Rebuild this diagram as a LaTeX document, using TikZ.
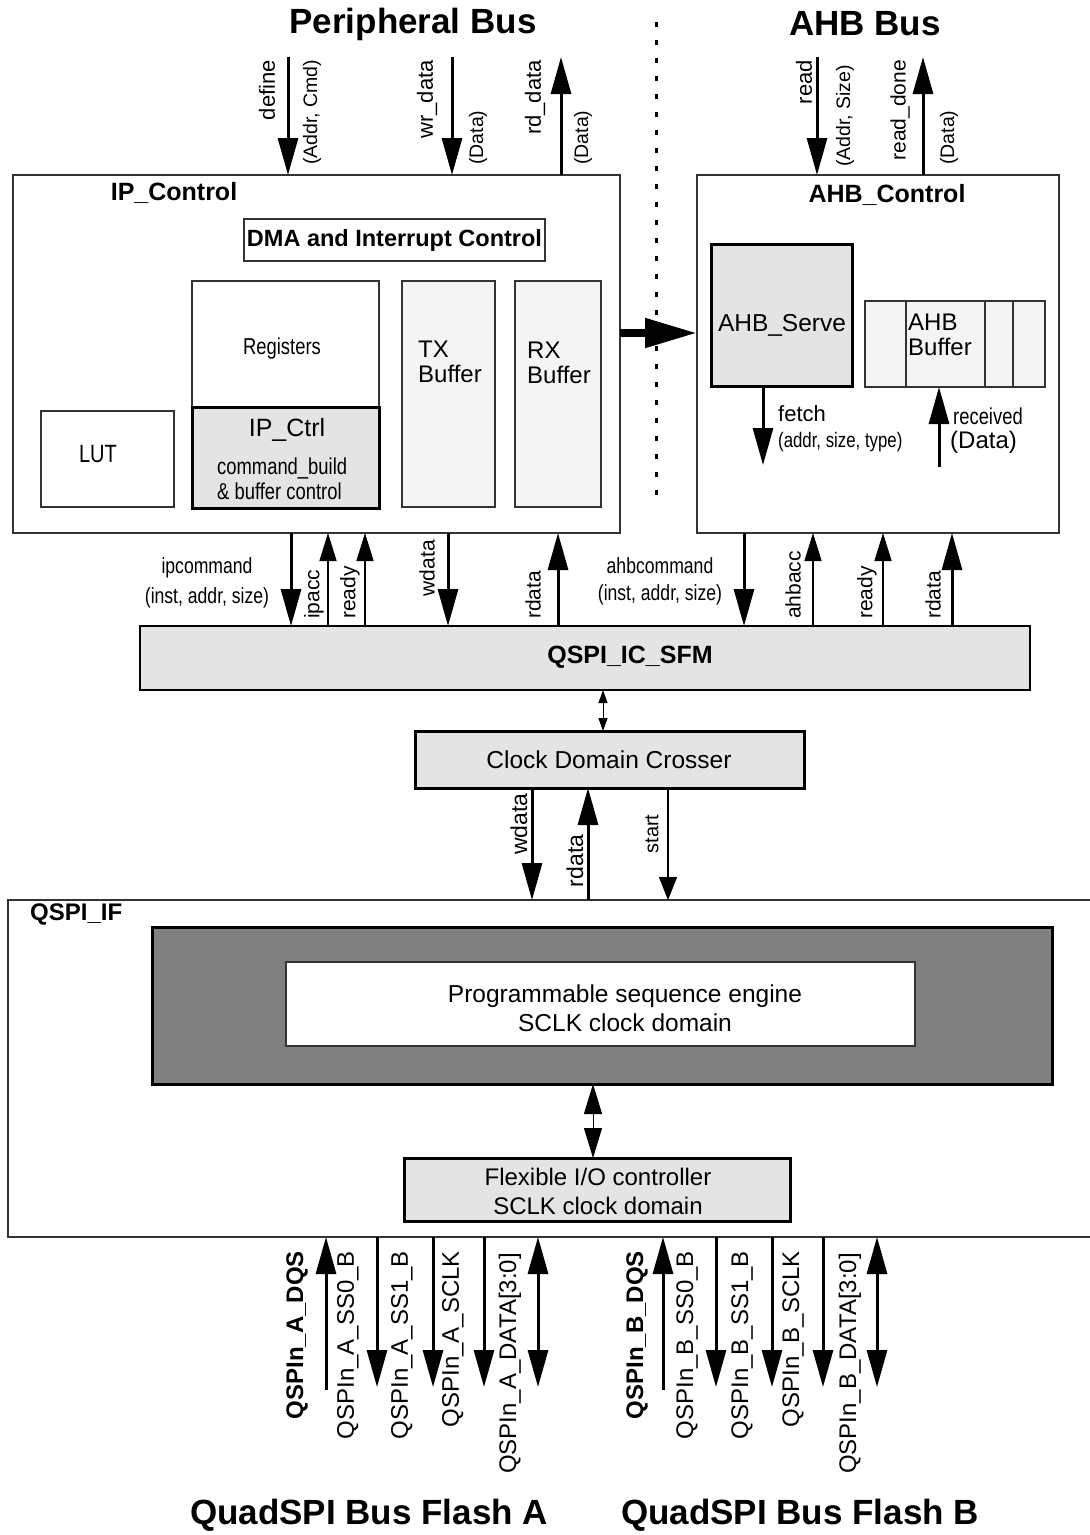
\documentclass[tikz,border=0pt]{standalone}
\usepackage{fontspec}
\setmainfont{Liberation Sans}
\newfontfamily\narfont[FakeStretch=0.8]{Liberation Sans}
\usetikzlibrary{arrows.meta}
\definecolor{lgray}{HTML}{E4E4E4}
\definecolor{vlgray}{HTML}{F4F4F4}
\definecolor{dgray}{HTML}{808080}
\begin{document}
\begin{tikzpicture}[x=1pt,y=-1pt,
 box/.style={draw=black!80,line width=1.3pt,inner sep=0pt,outer sep=0pt,anchor=north west},
 tbox/.style={box,draw=black,line width=3pt,fill=lgray},
 txt/.style={inner sep=0pt,font=\fontsize{#1}{#1}\selectfont},
 ntxt/.style={inner sep=0pt,font=\narfont\fontsize{#1}{#1}\selectfont},
 btxt/.style={inner sep=0pt,font=\fontsize{#1}{#1}\selectfont\bfseries},
 mtxt/.style 2 args={inner sep=0pt,align=center,font=\fontsize{#1}{#2}\selectfont},
 nmtxt/.style 2 args={inner sep=0pt,align=center,font=\narfont\fontsize{#1}{#2}\selectfont},
 ltxt/.style 2 args={inner sep=0pt,align=left,font=\fontsize{#1}{#2}\selectfont},
 nltxt/.style 2 args={inner sep=0pt,align=left,font=\narfont\fontsize{#1}{#2}\selectfont},
 rl/.style={rotate=90,inner sep=0pt,font=\fontsize{#1}{#1}\selectfont},
 brl/.style={rotate=90,inner sep=0pt,font=\fontsize{#1}{#1}\selectfont\bfseries},
 big/.style={line width=3pt,-{Triangle[width=20pt,length=37pt]}},
 bigtwo/.style={line width=3pt,{Triangle[width=20pt,length=37pt]}-{Triangle[width=20pt,length=37pt]}},
 sm/.style={line width=1.5pt,-{Triangle[width=17pt,length=28pt]}},
]
\useasboundingbox (0,0) rectangle (1090,1535);

% titles
\node[btxt=35] (tpb) at (413,24) {Peripheral Bus};
\node[btxt=35] (tahb) at (865,24) {AHB Bus};
\node[btxt=35] (tfa) at (369,1515) {QuadSPI Bus Flash A};
\node[btxt=35] (tfb) at (800,1515) {QuadSPI Bus Flash B};

% dotted separator
\coordinate (dtop) at (656,22);
\coordinate (dbot) at (656,498);
\draw[line width=3pt,dash pattern=on 5pt off 13pt] (dtop) -- (dbot);

% IP_Control
\node[box,minimum width=607pt,minimum height=358pt] (ipc) at (13,175) {};
\node[btxt=25] (ipcl) at (174,193) {IP\_Control};
\node[box,minimum width=301pt,minimum height=42pt] (dma) at (244,219) {};
\node[btxt=23.5] (dmal) at (dma.center) {DMA and Interrupt Control};
\node[box,minimum width=187pt,minimum height=126pt] (reg) at (192,281) {};
\node[ntxt=23] (regl) at (282,349) {Registers};
\node[tbox,minimum width=187pt,minimum height=101pt] (ipctrl) at (192,407) {};
\node[txt=25] (ipctrll) at (287,430) {IP\_Ctrl};
\node[nltxt={23}{25},anchor=west] (cbl) at (217,479) {command\_build\\\& buffer control};
\node[box,minimum width=133pt,minimum height=96pt] (lut) at (41,411) {};
\node[ntxt=25] (lutl) at (98,454) {LUT};
\node[box,fill=vlgray,minimum width=93pt,minimum height=226pt] (tx) at (402,281) {};
\node[ltxt={24}{25},anchor=west] (txl) at (418,362) {TX\\Buffer};
\node[box,fill=vlgray,minimum width=86pt,minimum height=226pt] (rx) at (515,281) {};
\node[ltxt={24}{25},anchor=west] (rxl) at (527,363) {RX\\Buffer};

% AHB_Control
\node[box,minimum width=362pt,minimum height=358pt] (ahb) at (697,175) {};
\node[btxt=25] (ahbl) at (887,195) {AHB\_Control};
\node[tbox,minimum width=141pt,minimum height=142pt] (serve) at (711,244) {};
\node[txt=24.5] (servel) at (782,325) {AHB\_Serve};
\node[box,fill=vlgray,minimum width=180pt,minimum height=86pt] (abuf) at (865,301) {};
\coordinate (dv1) at (906,0);
\coordinate (dv2) at (985,0);
\coordinate (dv3) at (1013,0);
\foreach \d in {dv1,dv2,dv3}{\draw[draw=black!80,line width=1.3pt] (abuf.north -| \d) -- (abuf.south -| \d);}
\node[ltxt={24}{25},anchor=west] (abufl) at (908,335) {AHB\\Buffer};
\coordinate (fe) at (763,465);
\draw[big] (serve.south -| fe) -- (fe);
\node[txt=22,anchor=west] (fetchl) at (778,414) {fetch};
\node[ntxt=21,anchor=west] (fetchl2) at (778,442) {(addr, size, type)};
\coordinate (re) at (939,467);
\draw[big] (re) -- (abuf.south -| re);
\node[ntxt=23,anchor=west] (recl) at (953,416) {received};
\node[txt=24,anchor=west] (recl2) at (950,442) {(Data)};

% big arrow IP -> AHB
\coordinate (yb) at (0,333);
\draw[line width=8pt,-{Triangle[width=28pt,length=52pt]}] (ipc.east |- yb) -- (ahb.west |- yb);

% top bus arrows
\coordinate (tdef) at (288,57);
\coordinate (twr) at (452,57);
\coordinate (trd) at (561,57);
\coordinate (tread) at (817,57);
\coordinate (tdone) at (923,57);
\draw[big] (tdef) -- (tdef |- ipc.north);
\draw[big] (twr) -- (twr |- ipc.north);
\draw[big] (trd |- ipc.north) -- (trd);
\draw[big] (tread) -- (tread |- ahb.north);
\draw[big] (tdone |- ahb.north) -- (tdone);
\node[rl=22,anchor=east] (ldef) at (267,60) {define};
\node[rl=19.5,anchor=west] (ldef2) at (312,165) {(Addr, Cmd)};
\node[rl=22,anchor=east] (lwr) at (427,60) {wr\_data};
\node[rl=19.5,anchor=west] (lwr2) at (478,165) {(Data)};
\node[rl=22,anchor=east] (lrd) at (535,60) {rd\_data};
\node[rl=19.5,anchor=west] (lrd2) at (583,165) {(Data)};
\node[rl=22,anchor=east] (lread) at (804,60) {read};
\node[rl=19.5,anchor=west] (lread2) at (845,167) {(Addr, Size)};
\node[rl=21,anchor=east] (ldone) at (900,60) {read\_done};
\node[rl=19.5,anchor=west] (ldone2) at (949,165) {(Data)};

% QSPI_IC_SFM
\node[tbox,line width=2.5pt,minimum width=890pt,minimum height=64pt] (sfm) at (140,626) {};
\node[btxt=25] (sfml) at (630,657) {QSPI\_IC\_SFM};

% middle arrows
\coordinate (m1) at (291,0);
\coordinate (m2) at (328,0);
\coordinate (m3) at (365,0);
\coordinate (m4) at (448,0);
\coordinate (m5) at (558,0);
\coordinate (m6) at (744,0);
\coordinate (m7) at (813,0);
\coordinate (m8) at (883,0);
\coordinate (m9) at (952,0);
\draw[big] (ipc.south -| m1) -- (sfm.north -| m1);
\draw[sm] (sfm.north -| m2) -- (ipc.south -| m2);
\draw[sm] (sfm.north -| m3) -- (ipc.south -| m3);
\draw[big] (ipc.south -| m4) -- (sfm.north -| m4);
\draw[big] (sfm.north -| m5) -- (ipc.south -| m5);
\draw[big] (ahb.south -| m6) -- (sfm.north -| m6);
\draw[sm] (sfm.north -| m7) -- (ahb.south -| m7);
\draw[sm] (sfm.north -| m8) -- (ahb.south -| m8);
\draw[big] (sfm.north -| m9) -- (ahb.south -| m9);
\node[nmtxt={22}{30}] (lipc) at (207,583) {ipcommand\\(inst, addr, size)};
\node[nmtxt={22}{27}] (lahbc) at (660,581) {ahbcommand\\(inst, addr, size)};
\node[rl=21,anchor=west] (lipacc) at (314,619) {ipacc};
\node[rl=21,anchor=west] (lready1) at (350,619) {ready};
\node[rl=21,anchor=east] (lwdata1) at (427,540) {wdata};
\node[rl=21,anchor=west] (lrdata1) at (533,619) {rdata};
\node[rl=21,anchor=west] (lahbacc) at (793,619) {ahbacc};
\node[rl=21,anchor=west] (lready2) at (867,619) {ready};
\node[rl=21,anchor=west] (lrdata2) at (933,619) {rdata};

% Clock Domain Crosser
\node[tbox,minimum width=389pt,minimum height=57pt] (cdc) at (415,731) {};
\node[txt=24.5] (cdcl) at (609,760) {Clock Domain Crosser};
\coordinate (c0) at (603,0);
\draw[line width=1pt,{Triangle[width=9pt,length=13pt]}-{Triangle[width=9pt,length=13pt]}] (sfm.south -| c0) -- (cdc.north -| c0);

% QSPI_IF
\node[box,minimum width=1090pt,minimum height=337pt] (qif) at (8,900) {};
\node[btxt=24,anchor=west] (qifl) at (30,914) {QSPI\_IF};
\node[box,draw=black,line width=3pt,fill=dgray,minimum width=900pt,minimum height=157pt] (dark) at (152,927) {};
\node[box,fill=white,minimum width=629pt,minimum height=84pt] (pse) at (286,962) {};
\node[mtxt={24.5}{29}] (psel) at (625,1008) {Programmable sequence engine\\SCLK clock domain};
\node[tbox,minimum width=386pt,minimum height=63pt] (fio) at (404,1158) {};
\node[mtxt={24}{29}] (fiol) at (598,1191) {Flexible I/O controller\\SCLK clock domain};
\coordinate (f0) at (593,0);
\draw[line width=1pt,{Triangle[width=18pt,length=30pt]}-{Triangle[width=18pt,length=30pt]}] (dark.south -| f0) -- (fio.north -| f0);

% CDC -> QSPI_IF arrows
\coordinate (k1) at (532,0);
\coordinate (k2) at (588,0);
\coordinate (k3) at (668,0);
\draw[big] (cdc.south -| k1) -- (qif.north -| k1);
\draw[big] (qif.north -| k2) -- (cdc.south -| k2);
\draw[line width=1.5pt,-{Triangle[width=18pt,length=23pt]}] (cdc.south -| k3) -- (qif.north -| k3);
\node[rl=23] (lwdata3) at (519,824) {wdata};
\node[rl=23] (lrdata3) at (575,861) {rdata};
\node[rl=20] (lstart) at (652,834) {start};

% bottom flash arrows
\coordinate (a1) at (326,1390);
\coordinate (a2) at (377,1387);
\coordinate (a3) at (433,1387);
\coordinate (a4) at (484,1387);
\coordinate (a5) at (538,1387);
\coordinate (b1) at (663,1390);
\coordinate (b2) at (716,1387);
\coordinate (b3) at (772,1387);
\coordinate (b4) at (823,1387);
\coordinate (b5) at (877,1387);
\draw[big] (a1) -- (qif.south -| a1);
\draw[big] (qif.south -| a2) -- (a2);
\draw[big] (qif.south -| a3) -- (a3);
\draw[big] (qif.south -| a4) -- (a4);
\draw[bigtwo] (qif.south -| a5) -- (a5);
\draw[big] (b1) -- (qif.south -| b1);
\draw[big] (qif.south -| b2) -- (b2);
\draw[big] (qif.south -| b3) -- (b3);
\draw[big] (qif.south -| b4) -- (b4);
\draw[bigtwo] (qif.south -| b5) -- (b5);
\node[brl=24,anchor=east] (la1) at (297,1251) {QSPIn\_A\_DQS};
\node[rl=24,anchor=east] (la2) at (348,1251) {QSPIn\_A\_SS0\_B};
\node[rl=24,anchor=east] (la3) at (402,1251) {QSPIn\_A\_SS1\_B};
\node[rl=24,anchor=east] (la4) at (453,1251) {QSPIn\_A\_SCLK};
\node[rl=24,anchor=east] (la5) at (510,1253) {QSPIn\_A\_DATA[3:0]};
\node[brl=24,anchor=east] (lb1) at (637,1251) {QSPIn\_B\_DQS};
\node[rl=24,anchor=east] (lb2) at (687,1251) {QSPIn\_B\_SS0\_B};
\node[rl=24,anchor=east] (lb3) at (742,1251) {QSPIn\_B\_SS1\_B};
\node[rl=24,anchor=east] (lb4) at (793,1251) {QSPIn\_B\_SCLK};
\node[rl=24,anchor=east] (lb5) at (850,1253) {QSPIn\_B\_DATA[3:0]};
\end{tikzpicture}
\end{document}
